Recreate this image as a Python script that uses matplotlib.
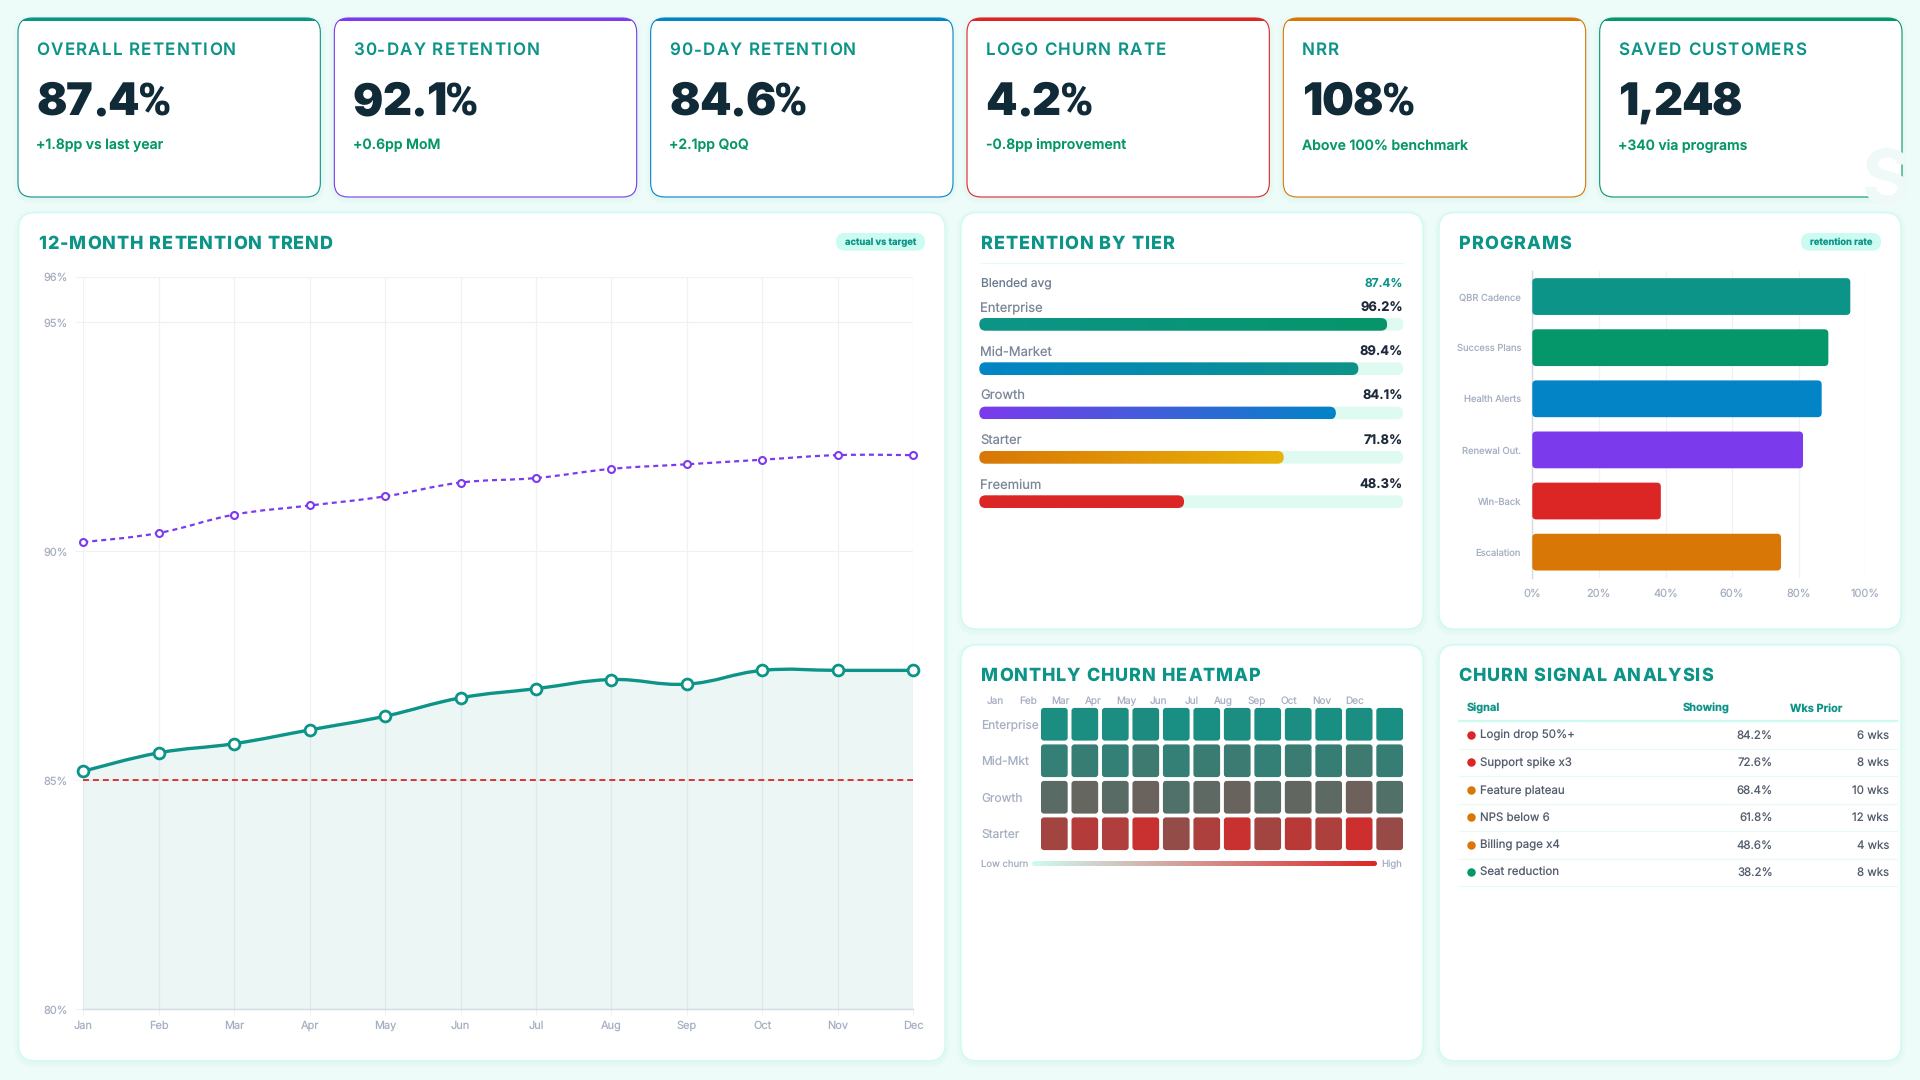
#!/usr/bin/env python3

import numpy as np
import matplotlib
matplotlib.use("Agg")
import matplotlib.pyplot as plt
from matplotlib.colors import LinearSegmentedColormap
from matplotlib.font_manager import FontProperties
from matplotlib.patches import FancyBboxPatch, PathPatch, Rectangle
from matplotlib.path import Path
from matplotlib.text import Text

plt.rcParams['font.family'] = ['Inter', 'DejaVu Sans']
plt.rcParams['text.hinting'] = 'no_hinting'

TEAL = '#0d9488'
GREEN = '#059669'
BLUE = '#0284c7'
PURPLE = '#7c3aed'
RED = '#dc2626'
ORANGE = '#d97706'
AMBER = '#eab308'
BG = '#edfcf8'
MINT = '#ccfbf1'
TRACK = '#dffbf1'
DARK = '#102a38'
GREY = '#a6b0c2'
GRID = '#eff1f3'
AXIS = '#d6dbe1'
BODY = '#525c6c'

# kpi cards
kpi_labels = ['OVERALL RETENTION', '30-DAY RETENTION', '90-DAY RETENTION',
              'LOGO CHURN RATE', 'NRR', 'SAVED CUSTOMERS']
kpi_values = ['87.4%', '92.1%', '84.6%', '4.2%', '108%', '1,248']
kpi_deltas = ['+1.8pp vs last year', '+0.6pp MoM', '+2.1pp QoQ',
              '-0.8pp improvement', 'Above 100% benchmark', '+340 via programs']
kpi_colors = [TEAL, PURPLE, BLUE, RED, ORANGE, GREEN]

# trend
months = ['Jan', 'Feb', 'Mar', 'Apr', 'May', 'Jun', 'Jul', 'Aug', 'Sep', 'Oct', 'Nov', 'Dec']
actual = [85.2, 85.6, 85.8, 86.1, 86.4, 86.8, 87.0, 87.2, 87.1, 87.4, 87.4, 87.4]
day30 = [90.2, 90.4, 90.8, 91.0, 91.2, 91.5, 91.6, 91.8, 91.9, 92.0, 92.1, 92.1]
target = [85] * 12
trend_ticks = [80, 85, 90, 95, 96]

# tiers
blended = 87.4
tier_names = ['Enterprise', 'Mid-Market', 'Growth', 'Starter', 'Freemium']
tier_values = [96.2, 89.4, 84.1, 71.8, 48.3]
tier_grads = [(TEAL, GREEN), (BLUE, TEAL), (PURPLE, BLUE), (ORANGE, AMBER), (RED, RED)]

# programs
prog_names = ['QBR Cadence', 'Success Plans', 'Health Alerts', 'Renewal Out.', 'Win-Back', 'Escalation']
prog_values = [95.5, 88.9, 86.9, 81.3, 38.6, 74.7]
prog_colors = [TEAL, GREEN, BLUE, PURPLE, RED, ORANGE]

# heatmap, 0 = teal end, 1 = red end
heat_rows = ['Enterprise', 'Mid-Mkt', 'Growth', 'Starter']
heat_enterprise = [.07, .07, .07, .08, .06, .06, .07, .06, .07, .06, .07, .06]
heat_midmkt = [.19, .21, .18, .24, .19, .22, .23, .19, .22, .20, .24, .20]
heat_growth = [.37, .42, .36, .45, .32, .39, .44, .36, .41, .38, .47, .33]
heat_starter = [.72, .80, .78, .90, .65, .77, .90, .72, .83, .77, .92, .67]

# signals
sig_names = ['Login drop 50%+', 'Support spike x3', 'Feature plateau',
             'NPS below 6', 'Billing page x4', 'Seat reduction']
sig_showing = ['84.2%', '72.6%', '68.4%', '61.8%', '48.6%', '38.2%']
sig_weeks = ['6 wks', '8 wks', '10 wks', '12 wks', '4 wks', '8 wks']
sig_colors = [RED, RED, ORANGE, ORANGE, ORANGE, GREEN]


def fs(px):
    return px * 0.72


class SpacedText(Text):
    # one text object, drawn glyph by glyph with css style letter spacing
    def __init__(self, x, y, text, spacing=0, pct_prop=None, **kw):
        super().__init__(x, y, text, **kw)
        self.spacing = spacing
        self.pct_prop = pct_prop

    def draw(self, renderer):
        x, y = self.get_transform().transform((self.get_position()))
        prop = self.get_fontproperties()
        gc = renderer.new_gc()
        gc.set_foreground(self.get_color())
        s = self.get_text()
        for i, ch in enumerate(s):
            if ch == ' ':
                continue
            w1 = renderer.get_text_width_height_descent(s[:i + 1], prop, False)[0]
            w2 = renderer.get_text_width_height_descent(ch, prop, False)[0]
            use = self.pct_prop if ch == '%' and self.pct_prop else prop
            renderer.draw_text(gc, x + w1 - w2 + i * self.spacing, renderer.height - y, ch, use, 0, False)
        gc.restore()

    def get_window_extent(self, renderer=None, dpi=None):
        bb = super().get_window_extent(renderer, dpi)
        bb.x1 = bb.x1 + self.spacing * len(self.get_text())
        return bb


fig = plt.figure(figsize=(19.2, 10.8), dpi=100, facecolor=BG)

bg = fig.add_axes([0, 0, 1, 1])
bg.set_xlim(0, 1920)
bg.set_ylim(1080, 0)
bg.axis('off')


def box(x0, y0, x1, y1, r, fc='white', ec='none', lw=0, **kw):
    p = FancyBboxPatch((x0, y0), x1 - x0, y1 - y0, boxstyle=f'round,pad=0,rounding_size={r}',
                       fc=fc, ec=ec, lw=lw, **kw)
    bg.add_patch(p)
    return p


def shadow(x0, y0, x1, y1, r):
    for k in range(1, 6):
        box(x0 - k, y0 - k + 2, x1 + k, y1 + k + 2, r + k, fc=TEAL, alpha=0.006)


def spaced(x, y, s, px, color, spacing, weight=800, **kw):
    t = SpacedText(x, y, s, spacing=spacing, fontsize=fs(px), color=color, fontweight=weight,
                   va='baseline', **kw)
    bg.add_artist(t)
    return t


def label(x, y, s, px, color, weight='normal', ha='left', va='center'):
    return bg.text(x, y, s, fontsize=fs(px), color=color, fontweight=weight, ha=ha, va=va)


def pill(x0, x1, s):
    box(x0, 233, x1, 250.7, 8.8, fc=MINT)
    label((x0 + x1) / 2, 242.8, s, 9.4, TEAL, weight='bold', ha='center')


def px_axes(x0, y0, x1, y1):
    ax = fig.add_axes([x0 / 1920, 1 - y1 / 1080, (x1 - x0) / 1920, (y1 - y0) / 1080])
    ax.patch.set_alpha(0)
    return ax


# cards
pct_font = FontProperties(family='Roboto', weight=900, size=fs(45))
card_w = (1884 - 5 * 14) / 6
for i in range(6):
    x0 = 18 + i * (card_w + 14)
    x1 = x0 + card_w
    shadow(x0, 18, x1, 197, 14)
    card = box(x0, 18, x1, 197, 14)
    band = Rectangle((x0, 18), card_w, 3.2, fc=kpi_colors[i], ec='none')
    bg.add_patch(band)
    band.set_clip_path(card)
    if i == 5:
        mark = bg.text(x0 + 262, 203, 'S', fontsize=fs(76), fontweight='bold', color='#eff9f8',
                       va='baseline', clip_on=True)
        mark.set_clip_path(card)
    box(x0, 18, x1, 197, 14, fc='none', ec=kpi_colors[i], lw=0.8)
    spaced(x0 + 18.5, 55, kpi_labels[i], 17, TEAL, 1.2, weight='semibold')
    spaced(x0 + 18.5, 115, kpi_values[i], 45, DARK, -1.0, weight=900, pct_prop=pct_font)
    label(x0 + 18.5, 149.5, kpi_deltas[i], 14, GREEN, weight='semibold', va='baseline')

# panels
panels = [(18.7, 212.7, 945, 1060.7), (961, 212.7, 1423, 629), (1439, 212.7, 1901, 629),
          (961, 645, 1423, 1060.7), (1439, 645, 1901, 1060.7)]
for x0, y0, x1, y1 in panels:
    shadow(x0, y0, x1, y1, 16)
    box(x0, y0, x1, y1, 16, ec=MINT, lw=0.9)

spaced(38.5, 249, '12-MONTH RETENTION TREND', 18, TEAL, 0.95)
pill(836, 925, 'actual vs target')
spaced(981, 249, 'RETENTION BY TIER', 18, TEAL, 0.95)
spaced(1459, 249, 'PROGRAMS', 18, TEAL, 0.95)
pill(1801, 1881, 'retention rate')
spaced(981, 681, 'MONTHLY CHURN HEATMAP', 18, TEAL, 0.95)
spaced(1458.5, 681, 'CHURN SIGNAL ANALYSIS', 18, TEAL, 0.95)


# trend chart
def spline_path(xs, ys):
    # same control points as a chart.js line with tension .4
    pts = np.column_stack([xs, ys]).astype(float)
    verts = [pts[0]]
    for i in range(len(pts) - 1):
        before = pts[max(i - 1, 0)]
        after = pts[min(i + 2, len(pts) - 1)]
        verts.append(pts[i] + 0.2 * (pts[i + 1] - before))
        verts.append(pts[i + 1] - 0.2 * (after - pts[i]))
        verts.append(pts[i + 1])
    return np.array(verts)


ax = px_axes(83.3, 276.5, 913.3, 1009.3)
x = np.arange(len(months))
ax.set_xlim(0, 11)
ax.set_ylim(80, 96)
ax.set_xticks(x, months)
ax.set_yticks(trend_ticks, [f'{v}%' for v in trend_ticks])
ax.grid(True, color=GRID, lw=0.9)
ax.set_axisbelow(True)
ax.tick_params(axis='y', length=5.8, width=0.7, color=GRID, labelsize=fs(11), labelcolor=GREY, pad=5.5)
ax.tick_params(axis='x', length=4.3, width=0.7, color=GRID, labelsize=fs(11), labelcolor=GREY, pad=4)
for name, sp in ax.spines.items():
    sp.set_visible(name == 'bottom')
    sp.set_color(AXIS)
    sp.set_linewidth(1)

line_verts = spline_path(x, actual)
codes = [Path.MOVETO] + [Path.CURVE4] * (len(line_verts) - 1)
area_verts = np.vstack([line_verts, [x[-1], 80], [x[0], 80], line_verts[0]])
area_codes = codes + [Path.LINETO, Path.LINETO, Path.CLOSEPOLY]
ax.add_patch(PathPatch(Path(area_verts, area_codes), fc=TEAL, ec='none', alpha=0.08))
ax.plot(x, target, color=RED, lw=1.3, dashes=(3.3, 2.2))
ax.add_patch(PathPatch(Path(line_verts, codes), fc='none', ec=TEAL, lw=2.4, capstyle='round'))
p30 = spline_path(x, day30)
ax.add_patch(PathPatch(Path(p30, [Path.MOVETO] + [Path.CURVE4] * (len(p30) - 1)), fc='none', ec=PURPLE,
                       lw=1.6, linestyle=(0, (2.25, 1.8))))
ax.plot(x, actual, ls='none', marker='o', ms=7.8, mfc='white', mec=TEAL, mew=2, clip_on=False, zorder=5)
ax.plot(x, day30, ls='none', marker='o', ms=5, mfc='white', mec=PURPLE, mew=1.5, clip_on=False, zorder=5)

# tier bars
bg.plot([981, 1403], [263, 263], color='#e6faf5', lw=0.8)
label(981.3, 284, 'Blended avg', 12, '#6b7a8f')
label(1403, 284, f'{blended}%', 12, TEAL, weight='semibold', ha='right')

ax = px_axes(979.3, 300, 1403.3, 520)
ax.set_xlim(0, 100)
ax.set_ylim(220, 0)
ax.axis('off')
px_per_pct = 424 / 100
for i, (name, val) in enumerate(zip(tier_names, tier_values)):
    top = 18 + i * 44.33
    r = 6.3
    style = f'round,pad=0,rounding_size={r / px_per_pct}'
    ax.add_patch(FancyBboxPatch((0, top), 100, 12.7, boxstyle=style, mutation_aspect=px_per_pct,
                                fc=TRACK, ec='none'))
    clip = FancyBboxPatch((0, top), val, 12.7, boxstyle=style, mutation_aspect=px_per_pct,
                          fc='none', ec='none')
    ax.add_patch(clip)
    cmap = LinearSegmentedColormap.from_list(name, tier_grads[i])
    im = ax.imshow(np.linspace(0, 1, 256)[None, :], extent=[0, val, top + 12.7, top], aspect='auto',
                   cmap=cmap, zorder=2)
    im.set_clip_path(clip)
    label(980, 308 + i * 44.33, name, 13, '#7b8799')
    label(1403, 308 + i * 44.33, f'{val}%', 13, '#1e293b', weight='bold', ha='right')
ax.set_xlim(0, 100)
ax.set_ylim(220, 0)

# programs
ax = px_axes(1532.3, 271, 1865.3, 577.7)
ax.set_xlim(0, 100)
ax.set_ylim(6, 0)
ax.set_xticks([0, 20, 40, 60, 80, 100], ['0%', '20%', '40%', '60%', '80%', '100%'])
ax.set_yticks(np.arange(6) + 0.5, prog_names)
ax.grid(True, axis='x', color=GRID, lw=0.9)
ax.set_axisbelow(True)
ax.tick_params(axis='x', length=0, labelsize=fs(11), labelcolor=GREY, pad=7.8)
ax.tick_params(axis='y', length=0, labelsize=fs(9.4), labelcolor=GREY, pad=8)
for t in ax.get_yticklabels():
    t.set_verticalalignment('center_baseline')
for name, sp in ax.spines.items():
    sp.set_visible(name == 'left')
    sp.set_color(AXIS)
    sp.set_linewidth(1)
bar_h = 36.7 / 51
rx = 4 / 3.33
for i, (val, col) in enumerate(zip(prog_values, prog_colors)):
    ax.add_patch(FancyBboxPatch((0, i + (1 - bar_h) / 2), val, bar_h,
                                boxstyle=f'round,pad=0,rounding_size={rx}',
                                mutation_aspect=(4 / 51) / rx, fc=col, ec='none', zorder=3))

# heatmap
for i, m in enumerate(months):
    label(995.7 + i * 32.6, 701, m, 10, GREY, ha='center')
ax = px_axes(1039.1, 706, 1404.9, 852)
ax.set_xlim(0, 12)
ax.set_ylim(4, 0)
ax.axis('off')
heat = np.array([heat_enterprise, heat_midmkt, heat_growth, heat_starter])
heat_cmap = LinearSegmentedColormap.from_list('churn', [TEAL, RED])
inset_x = 1.9 / 30.48
inset_y = 1.9 / 36.5
rx = 3 / 30.48
for r_i, row in enumerate(heat):
    label(981, 725.5 + r_i * 36.5, heat_rows[r_i], 12, GREY)
    for c_i, v in enumerate(row):
        ax.add_patch(FancyBboxPatch((c_i + inset_x, r_i + inset_y), 1 - 2 * inset_x, 1 - 2 * inset_y,
                                    boxstyle=f'round,pad=0,rounding_size={rx}',
                                    mutation_aspect=(3 / 36.5) / rx, fc=heat_cmap(v), ec='none'))

label(981, 864, 'Low churn', 9.5, GREY)
label(1402, 864, 'High', 9.5, GREY, ha='right')
clip = box(1032, 861, 1377, 866, 2.5, fc='none')
grad = bg.imshow(np.linspace(0, 1, 256)[None, :], extent=[1032, 1377, 866, 861], aspect='auto',
                 cmap=LinearSegmentedColormap.from_list('legend', [MINT, RED]), zorder=2)
grad.set_clip_path(clip)
bg.set_xlim(0, 1920)
bg.set_ylim(1080, 0)

# signal table
label(1467, 708.5, 'Signal', 11, TEAL, weight='bold')
label(1682.5, 708.5, 'Showing', 11, TEAL, weight='bold')
label(1789.5, 708.5, 'Wks Prior', 11, TEAL, weight='bold')
bg.plot([1459, 1897], [720.7, 720.7], color=MINT, lw=1.6)
for i in range(6):
    yc = 735 + i * 27.47
    bg.plot([1471.3], [yc], marker='o', ms=6.1, mfc=sig_colors[i], mec='none')
    label(1480, yc + 0.5, sig_names[i], 11.5, BODY)
    label(1773, yc + 0.5, sig_showing[i], 11.5, BODY, ha='right')
    label(1889, yc + 0.5, sig_weeks[i], 11.5, BODY, ha='right')
    bg.plot([1459, 1897], [yc + 13.7, yc + 13.7], color='#e6fbf5', lw=0.8)

fig.savefig('out.png', dpi=100, facecolor=fig.get_facecolor())
